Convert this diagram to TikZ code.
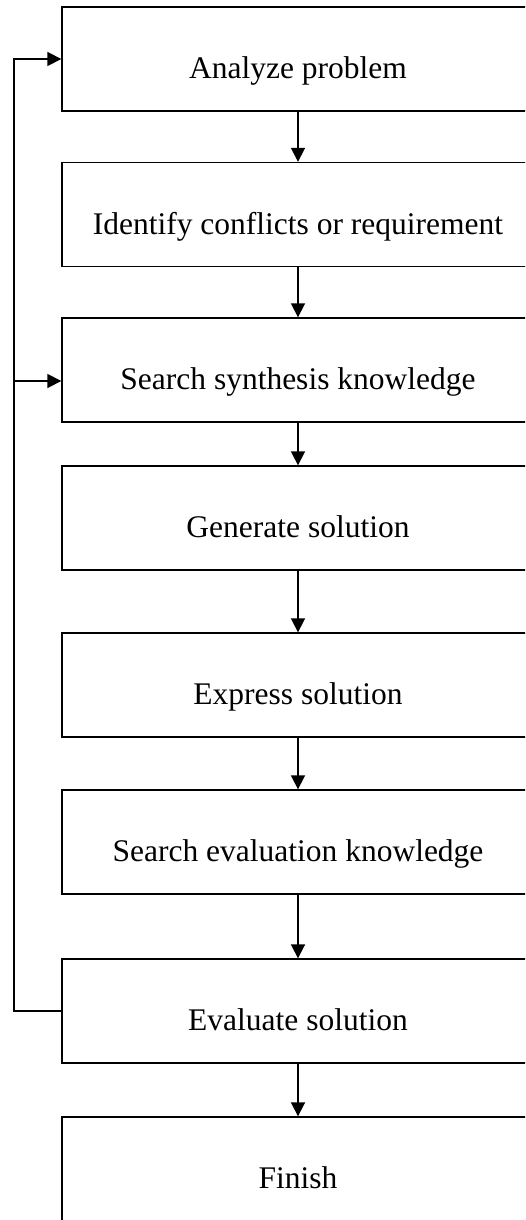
\documentclass[tikz,border=0pt]{standalone}
\usepackage{fontspec}
\setmainfont{Liberation Serif}
\usetikzlibrary{arrows.meta}
\begin{document}
\begin{tikzpicture}[x=1pt,y=-1pt,
  stepbox/.style={draw, line width=1.4pt, minimum width=472pt, minimum height=104pt,
    inner sep=0pt, text height=40pt, text depth=1pt,
    font=\fontsize{31.5}{36}\selectfont},
  flow/.style={line width=1.8pt, -{Triangle[width=14pt,length=14pt]}},
  loopline/.style={line width=1.8pt}]
\useasboundingbox (0,0) rectangle (525,1220);
\clip (0,0) rectangle (525,1220);
% process steps
\node[stepbox] (b1) at (298,59)   {Analyze problem};
\node[stepbox] (b2) at (298,214.5){Identify conflicts or requirement};
\node[stepbox] (b3) at (298,370)  {Search synthesis knowledge};
\node[stepbox] (b4) at (298,518)  {Generate solution};
\node[stepbox] (b5) at (298,685)  {Express solution};
\node[stepbox] (b6) at (298,842)  {Search evaluation knowledge};
\node[stepbox] (b7) at (298,1011) {Evaluate solution};
\node[stepbox] (b8) at (298,1169) {Finish};
% main sequence
\draw[flow] (b1.south) -- (b2.north);
\draw[flow] (b2.south) -- (b3.north);
\draw[flow] (b3.south) -- (b4.north);
\draw[flow] (b4.south) -- (b5.north);
\draw[flow] (b5.south) -- (b6.north);
\draw[flow] (b6.south) -- (b7.north);
\draw[flow] (b7.south) -- (b8.north);
% feedback loop
\coordinate (corner) at (14,1011);
\coordinate (branch) at (14,381);
\draw[flow] (b7.west) -- (corner) |- (b1.west);
\draw[flow] (branch) -- (branch -| b3.west);
\end{tikzpicture}
\end{document}
